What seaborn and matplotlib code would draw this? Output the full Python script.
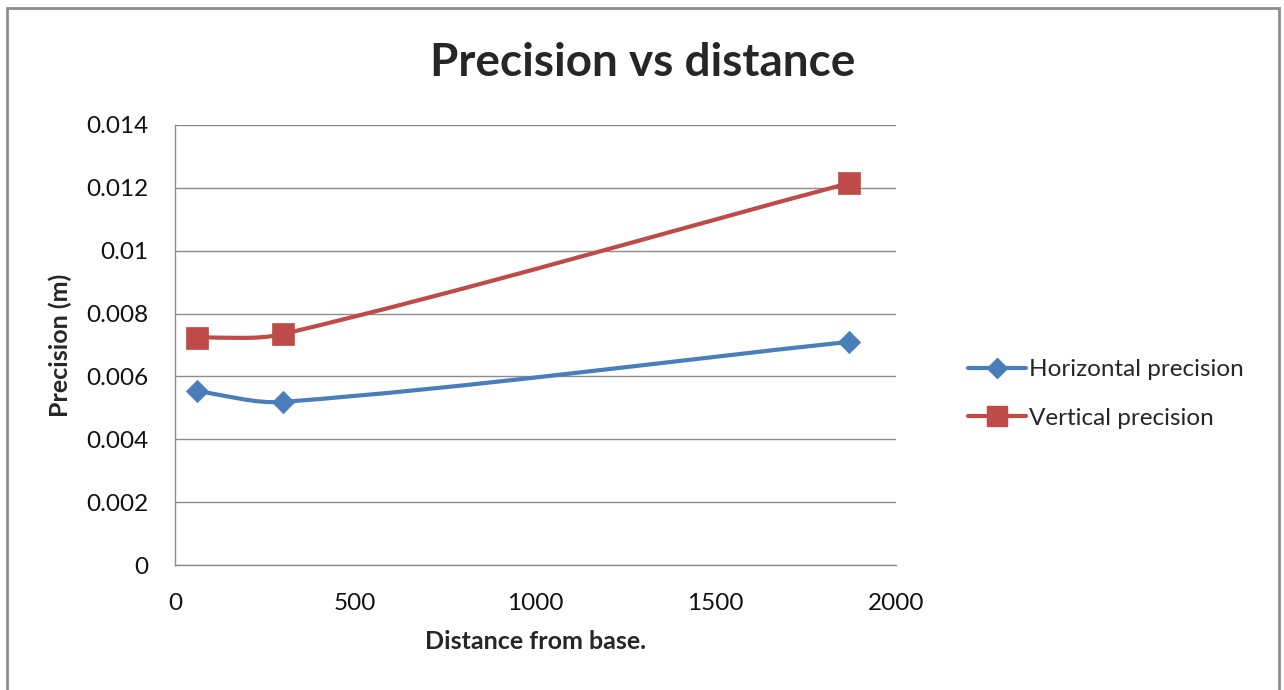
import numpy as np
import pandas as pd
import seaborn as sns
import matplotlib
matplotlib.use("Agg")
import matplotlib.pyplot as plt
from matplotlib.path import Path
from matplotlib.patches import PathPatch, Rectangle
from matplotlib.lines import Line2D

# ---- data ----
distance = [60, 300, 1870]
horizontal_precision = [0.00553, 0.00519, 0.00710]
vertical_precision = [0.00723, 0.00735, 0.01215]
series_names = ["Horizontal precision", "Vertical precision"]
x_ticks = [0, 500, 1000, 1500, 2000]
y_ticks = [0, 0.002, 0.004, 0.006, 0.008, 0.01, 0.012, 0.014]
y_tick_labels = ["0", "0.002", "0.004", "0.006", "0.008", "0.01", "0.012", "0.014"]

BLUE = "#4A7EBB"
RED = "#BE4B48"
GRID = "#8C8C8C"

sns.set_theme(style="white")
plt.rcParams["font.family"] = ["Lato", "DejaVu Sans"]

fig = plt.figure(figsize=(12.84, 6.9), dpi=100)
ax = fig.add_axes([175 / 1284, 1 - 565 / 690, 721 / 1284, 440 / 690])

XMAX, YMAX = 2000, 0.014
ax.set_xlim(0, XMAX)
ax.set_ylim(0, YMAX)

# pixel scales for smoothing in screen-like space
SX = 721 / XMAX
SY = 440 / YMAX


def smooth_path(xs, ys):
    P = np.column_stack([np.array(xs) * SX, np.array(ys) * SY])
    n = len(P)
    tang = []
    for i in range(n):
        if i == 0:
            d = P[1] - P[0]
        elif i == n - 1:
            d = P[-1] - P[-2]
        else:
            d = P[i + 1] - P[i - 1]
        tang.append(d / np.linalg.norm(d))
    verts = [P[0]]
    codes = [Path.MOVETO]
    for i in range(n - 1):
        L = np.linalg.norm(P[i + 1] - P[i])
        c1 = P[i] + tang[i] * L / 3
        c2 = P[i + 1] - tang[i + 1] * L / 3
        verts += [c1, c2, P[i + 1]]
        codes += [Path.CURVE4] * 3
    verts = np.array(verts)
    verts[:, 0] /= SX
    verts[:, 1] /= SY
    return Path(verts, codes)


for ys, col in [(horizontal_precision, BLUE), (vertical_precision, RED)]:
    ax.add_patch(PathPatch(smooth_path(distance, ys), fill=False, edgecolor=col,
                           lw=3.0, capstyle="round", joinstyle="round", zorder=3))

df = pd.DataFrame({
    "distance": distance * 2,
    "precision": horizontal_precision + vertical_precision,
    "series": [series_names[0]] * 3 + [series_names[1]] * 3,
})
sns.scatterplot(data=df[df.series == series_names[0]], x="distance", y="precision",
                marker="D", s=130, color=BLUE, edgecolor=BLUE, linewidth=0.5,
                ax=ax, zorder=4, legend=False)
sns.scatterplot(data=df[df.series == series_names[1]], x="distance", y="precision",
                marker="s", s=270, color=RED, edgecolor=RED, linewidth=0.5,
                ax=ax, zorder=4, legend=False)

ax.set_xticks(x_ticks)
ax.set_xticklabels([str(t) for t in x_ticks], fontsize=17.5, color="#111111")
ax.set_yticks(y_ticks)
ax.set_yticklabels(y_tick_labels, fontsize=17.5, color="#111111")
ax.tick_params(axis="both", length=0)
ax.tick_params(axis="x", pad=20)
ax.tick_params(axis="y", pad=19)
ax.yaxis.grid(True, color=GRID, lw=1.0)
ax.xaxis.grid(False)
for s in ["top", "right"]:
    ax.spines[s].set_visible(False)
for s in ["left", "bottom"]:
    ax.spines[s].set_color(GRID)
    ax.spines[s].set_linewidth(1.0)

ax.set_xlabel("Distance from base.", fontsize=18, fontweight="bold", labelpad=12)
ax.set_ylabel("Precision (m)", fontsize=18, fontweight="bold", labelpad=10)

fig.text(643 / 1284, 1 - 63 / 690, "Precision vs distance", fontsize=33,
         fontweight="bold", ha="center", va="center")

handles = [
    Line2D([], [], color=BLUE, lw=3.0, marker="D", markersize=10),
    Line2D([], [], color=RED, lw=3.0, marker="s", markersize=14),
]
fig.legend(handles, series_names, loc="center left",
           bbox_to_anchor=(946 / 1284, 1 - 394 / 690), frameon=False,
           fontsize=17.5, handlelength=2.4, handletextpad=0.1, labelspacing=1.15)

# outer chart border
fig.patches.append(Rectangle((7 / 1284, -0.05), 1272 / 1284, 1.05 - 8 / 690,
                             transform=fig.transFigure, fill=False,
                             edgecolor="#8C8C8C", lw=2.0))

fig.savefig("out.png", dpi=100)
